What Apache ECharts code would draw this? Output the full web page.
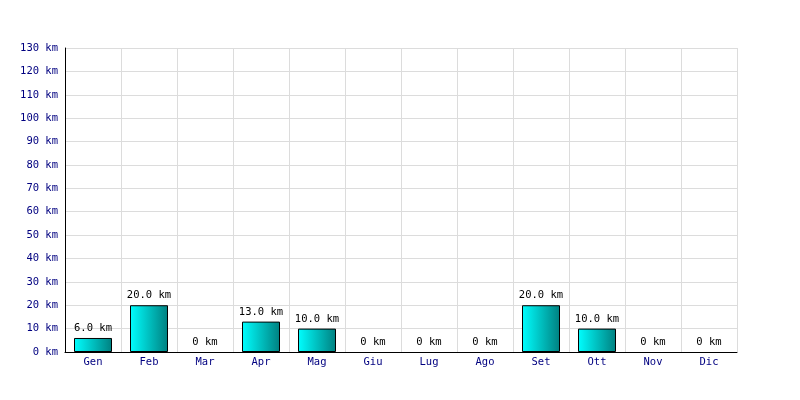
<!DOCTYPE html>
<html><head><meta charset="utf-8">
<script src="https://cdn.jsdelivr.net/npm/echarts@6/dist/echarts.min.js"></script>
<style>html,body{margin:0;padding:0;background:#fff}#c{width:800px;height:400px}</style>
</head><body><div id="c"></div>
<script>
const months = ['Gen','Feb','Mar','Apr','Mag','Giu','Lug','Ago','Set','Ott','Nov','Dic'];
const km = [6, 20, 0, 13, 10, 0, 0, 0, 20, 10, 0, 0];
const unit = ' km';
const font = 'DejaVu Sans Mono';
const chart = echarts.init(document.getElementById('c'), null, {renderer:'canvas'});
chart.setOption({
  animation:false,
  backgroundColor:'#ffffff',
  grid:{left:65, right:63, top:48, bottom:48, containLabel:false},
  xAxis:{type:'category', data:months, boundaryGap:true,
    axisLine:{show:true, lineStyle:{color:'#000', width:1}},
    axisTick:{show:false},
    axisLabel:{color:'#000080', fontFamily:font, fontSize:10.5, margin:5},
    splitLine:{show:true, lineStyle:{color:'#dcdcdc', width:1}}
  },
  yAxis:{type:'value', min:0, max:130, interval:10,
    axisLine:{show:true, lineStyle:{color:'#000', width:1}},
    axisTick:{show:false},
    axisLabel:{color:'#000080', fontFamily:font, fontSize:10.5, margin:7, formatter:v=>v+unit},
    splitLine:{show:true, lineStyle:{color:'#dcdcdc', width:1}}
  },
  series:[{type:'bar', barWidth:38,
    data:km.map(v => v === 0 ? {value:v, itemStyle:{borderWidth:0}} : v),
    itemStyle:{color:new echarts.graphic.LinearGradient(0,0,1,0,[{offset:0,color:'#00ffff'},{offset:1,color:'#008080'}]), borderColor:'#000', borderWidth:1},
    label:{show:true, position:'top', distance:4, color:'#000', fontFamily:font, fontSize:10.5,
      formatter:p=>p.value===0 ? '0'+unit : p.value.toFixed(1)+unit}
  }]
});
</script></body></html>
